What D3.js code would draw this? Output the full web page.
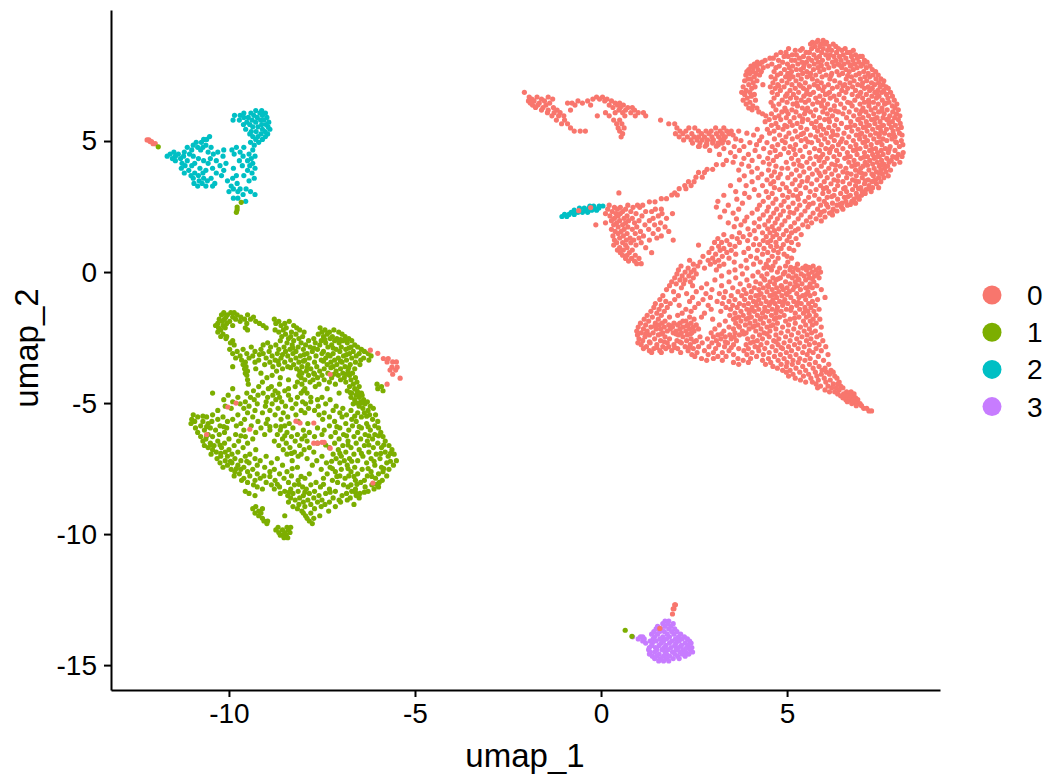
<!DOCTYPE html>
<html>
<head>
<meta charset="utf-8">
<script src="https://cdn.jsdelivr.net/npm/d3@7"></script>
<style>
html, body { margin: 0; padding: 0; background: #fff; }
svg { display: block; }
text { font-family: "Liberation Sans", Arial, sans-serif; fill: #000; }
</style>
</head>
<body>
<svg id="chart" width="1050" height="780"></svg>
<script>
// every row is [umap_2, umap_1, umap_1, ...]
var cluster0Head = [
[8.84,5.83,5.97],
[8.77,5.68,5.79,6.06],
[8.7,5.63,5.91,6.02,6.24],
[8.61,5.74,5.88,6.13,6.31],
[8.53,5.04,5.41,5.66,5.97,6.38,6.56],
[8.46,5.22,5.36,5.82,6.09,6.2,6.47,6.78],
[8.38,4.83,4.97,5.51,5.6,5.93,6.33,6.62,6.7],
[8.29,4.71,5.14,5.25,5.72,6.04,6.16,6.51,6.84],
[8.23,4.92,5.03,5.44,5.87,6.26,6.41,6.73,6.96,7.02],
[8.16,4.54,4.63,5.33,5.58,5.79,6.11,6.58,6.89],
[8.08,4.41,4.77,5.12,5.21,5.66,5.95,6.31,6.45,6.77,7.08],
[8.01,4.2,4.33,4.88,5.4,5.52,5.84,6.22,6.64,6.93,7.15],
[7.94,4.12,4.27,4.59,5.01,5.29,5.73,6.07,6.36,6.53,6.82,7.04],
[7.86,4.03,4.18,4.48,4.79,5.15,5.6,5.91,6.26,6.7,6.99,7.23],
[7.8,4.09,4.36,4.7,5.06,5.44,5.83,6.12,6.47,6.88,7.13],
[7.73,3.97,4.22,4.93,5.25,5.37,5.71,5.99,6.58,6.78,7.29],
[7.65,3.92,4.08,4.31,4.65,5.12,5.53,5.88,6.34,6.67,7.06,7.38],
[7.58,4.0,4.17,4.83,5.02,5.42,5.63,6.2,6.49,6.94,7.18],
[7.52,3.89,4.26,4.74,5.3,5.77,6.05,6.4,6.85,7.31,7.45],
[7.45,4.12,4.57,4.96,5.16,5.54,5.94,6.73,7.09,7.22],
[7.37,3.95,4.03,4.68,5.06,5.38,5.68,6.15,6.59,6.97,7.39,7.52],
[7.3,3.86,4.19,4.86,5.24,5.81,6.28,6.8,7.14,7.6],
[7.22,4.09,4.62,5.0,5.49,5.92,6.42,6.69,7.03,7.27,7.46],
[7.15,3.97,4.35,4.75,5.13,5.33,5.73,6.11,6.55,6.9,7.35,7.58],
[7.07,3.82,4.14,4.55,4.92,5.6,6.0,6.35,6.76,7.18,7.5,7.66],
[7.01,4.05,4.68,5.22,5.44,5.85,6.22,6.63,7.08,7.29,7.72],
[6.93,3.9,4.82,5.08,5.53,5.96,6.47,6.84,7.22,7.44,7.6],
[6.86,3.78,4.0,4.6,5.31,5.71,6.14,6.58,6.98,7.36,7.55,7.78],
[6.78,3.86,4.12,4.74,5.17,5.62,6.03,6.4,6.75,7.13,7.67],
[6.71,4.04,4.96,5.45,5.88,6.26,6.9,7.28,7.47,7.83],
[6.64,3.93,4.65,5.09,5.25,5.77,6.16,6.53,7.03,7.4,7.71],
[6.56,3.82,4.15,4.87,5.38,5.58,5.98,6.33,6.82,7.19,7.56,7.88],
[6.48,4.0,4.57,5.0,5.49,5.82,6.63,7.08,7.32,7.74],
[6.41,3.9,4.78,5.16,5.69,6.09,6.44,6.96,7.45,7.62,7.95],
[6.34,4.08,4.63,5.28,5.93,6.27,6.75,7.2,7.83],
[6.26,3.97,4.19,4.94,5.41,5.55,6.02,6.54,7.04,7.37,7.55,7.9],
[6.19,4.06,4.7,5.13,5.77,6.17,6.86,7.26,7.69,7.99],
[6.11,4.24,4.86,5.24,5.63,5.96,6.38,6.67,7.12,7.46,7.84],
[6.04,4.34,4.58,5.03,5.47,6.08,6.5,6.95,7.33,7.61,7.94],
[5.96,4.43,4.78,5.34,5.71,6.22,6.79,7.19,7.76,8.03],
[5.89,4.67,4.98,5.19,5.87,6.6,7.04,7.42,7.58,7.89],
[5.82,4.52,4.83,5.56,6.01,6.33,6.9,7.27,7.68,7.99],
[5.74,4.41,5.08,5.41,5.78,6.14,6.71,7.13,7.5,7.83],
[5.67,4.7,5.27,5.66,6.46,6.98,7.36,7.74,8.04],
[5.6,4.58,4.94,5.14,5.9,6.28,6.82,7.21,7.59,7.91],
[5.52,4.76,5.37,5.74,6.12,6.6,7.05,7.44,7.8,8.07],
[5.45,4.2,4.47,4.89,5.53,5.98,6.37,6.91,7.3,7.67,7.98],
[5.38,3.7,4.65,5.22,5.82,6.22,6.74,7.15,7.52,7.85],
[5.3,3.92,4.53,5.05,5.44,6.06,6.53,7.0,7.38,7.62,8.02],
[5.23,3.55,4.1,4.8,5.63,5.92,6.35,6.86,7.24,7.75,8.09],
[5.16,3.3,4.32,4.97,5.28,5.77,6.18,6.66,7.09,7.47,7.9],
[5.08,3.62,4.66,5.14,5.5,6.01,6.48,6.95,7.33,7.58,7.82],
[5.02,3.0,3.76,4.26,4.87,5.38,5.84,6.27,6.78,7.16,7.68,8.07],
[4.94,3.42,4.0,4.46,4.95,5.66,6.1,6.59,7.04,7.42,7.94],
[4.86,2.84,3.15,4.18,4.75,5.23,5.92,6.38,6.85,7.26,7.55,8.11],
[4.79,2.62,3.58,3.84,4.6,5.08,5.49,6.22,6.7,7.12,7.77,8.02],
[4.71,3.3,4.37,4.92,5.74,6.04,6.5,6.96,7.38,7.64],
[4.64,2.92,3.72,4.14,4.68,5.35,5.87,6.33,6.78,7.22,7.53,7.9],
[4.56,3.48,4.54,5.04,5.6,6.14,6.62,7.08,7.43,7.72,8.12],
[4.49,3.18,3.96,4.82,5.22,5.96,6.41,6.88,7.3,7.58,7.99],
[4.41,3.6,4.25,4.72,5.42,5.78,6.26,6.7,7.16,7.48,7.84,8.09],
[4.34,3.84,4.48,5.12,5.62,6.08,6.55,6.98,7.34,7.68,7.95],
[4.26,3.37,4.06,4.63,5.3,5.86,6.35,6.8,7.22,7.54,7.8],
[4.19,3.55,4.36,4.98,5.53,6.0,6.66,7.1,7.42,7.74,8.03],
[4.12,3.78,4.52,5.18,5.72,6.2,6.9,7.3,7.6,7.88],
[4.04,3.97,4.7,5.4,5.92,6.43,6.74,7.04,7.48,7.7],
[3.96,4.2,4.86,5.02,5.6,6.12,6.58,6.98,7.34,7.62],
[3.89,3.7,4.5,5.25,5.8,6.3,6.84,7.2,7.52,7.78],
[3.82,4.05,4.66,5.45,6.02,6.5,6.94,7.4,7.66],
[3.74,4.32,4.82,5.12,5.68,6.2,6.72,7.1,7.28,7.56],
[3.67,3.85,4.58,5.34,5.9,6.38,6.86,7.32,7.72],
[3.6,4.22,4.76,5.02,5.56,6.08,6.6,7.02,7.46,7.6],
[3.52,3.72,4.46,5.22,5.8,6.26,6.76,7.18,7.38],
[3.45,4.06,4.64,5.4,6.0,6.5,6.92,7.28,7.52],
[3.37,4.56,4.88,5.14,5.66,6.18,6.68,7.08,7.4],
[3.3,3.48,3.9,4.34,5.34,5.9,6.36,6.84,7.2],
[3.22,4.66,4.98,5.5,6.06,6.56,6.98,7.3,7.46],
[3.15,4.12,4.8,5.24,5.78,6.28,6.76,7.12],
[3.07,3.62,4.44,5.06,5.62,6.12,6.6,7.02,7.26],
[3.0,3.86,4.6,5.36,5.96,6.44,6.86,7.1],
[2.93,3.3,4.24,4.88,5.16,5.74,6.26,6.7,7.0],
[2.85,3.98,4.5,5.02,5.58,6.08,6.54,6.92],
[2.78,3.65,4.7,5.3,5.86,6.36,6.8,6.94],
[2.7,3.14,4.36,4.92,5.48,6.0,6.58,6.74],
[2.63,3.8,4.62,5.16,5.7,6.22,6.48,6.84],
[2.55,3.42,4.26,4.84,5.34,5.9,6.34,6.62],
[2.48,3.1,4.5,5.04,5.56,6.1,6.46],
[2.4,3.7,4.2,4.72,5.26,5.82,6.24,6.5],
[2.33,3.32,4.46,4.9,5.48,6.0,6.34],
[2.25,3.55,4.06,4.64,5.18,5.7,6.14],
[2.18,4.36,4.82,5.38,5.88,6.22],
[2.1,3.2,3.92,4.56,5.04,5.62,6.02],
[2.03,3.64,4.26,4.74,5.3,5.78],
[1.95,3.86,4.5,4.94,5.52,5.92],
[1.88,3.42,4.12,4.68,5.2,5.66],
[1.8,3.76,4.4,4.86,5.42],
[1.73,3.58,4.24,4.6,5.1,5.56],
[1.65,3.95,4.48,4.78,5.3],
[1.58,4.12,4.66,4.98,5.22],
[1.5,3.72,4.34,4.54,5.12],
[1.43,3.3,4.0,4.72,4.9,5.38]
];
var cluster0Body = [
[1.35,3.52,3.82,4.44,4.62,5.06],
[1.28,3.14,3.66,4.16,4.8,5.24],
[1.2,3.38,3.94,4.36,4.56,5.0],
[1.13,3.05,3.24,3.72,4.48,4.7,5.12],
[1.05,3.46,4.1,4.26,4.9,5.3],
[0.98,3.16,3.6,4.56,4.72],
[0.9,2.98,3.3,3.96,4.38,4.84,5.06],
[0.83,3.2,3.5,4.2,4.64,5.18],
[0.75,2.9,3.38,3.84,4.48,4.76],
[0.68,3.08,3.62,4.34,4.92],
[0.6,2.74,3.26,4.02,4.6,5.0],
[0.53,3.0,3.44,4.18,4.76,5.12],
[0.45,2.38,2.88,3.16,3.9,4.5],
[0.38,2.66,3.06,3.58,4.28,4.68,5.02],
[0.3,2.48,2.94,3.3,4.1,4.44,5.28],
[0.23,2.15,2.6,3.18,3.76,4.62,4.96,5.5,5.7],
[0.15,2.34,2.78,3.92,4.38,4.8,5.22,5.42,5.62,5.86],
[0.08,2.08,2.5,3.1,3.6,4.58,5.08,5.3,5.52,5.78],
[0.0,2.26,2.42,3.44,4.22,4.74,4.94,5.16,5.68,5.9],
[-0.07,2.04,2.56,3.8,4.46,4.9,5.38,5.58,5.82],
[-0.15,2.18,2.36,3.24,4.08,4.32,5.04,5.24,5.46,5.74],
[-0.22,1.98,2.48,3.62,4.62,4.82,5.14,5.6,5.86],
[-0.3,2.26,2.12,3.06,3.92,4.4,4.7,5.32,5.5],
[-0.37,1.9,2.4,3.44,4.16,4.54,4.96,5.22,5.72],
[-0.45,2.02,2.22,2.84,3.74,4.28,4.66,5.08,5.4,5.62],
[-0.52,1.84,2.46,3.24,3.98,4.48,4.84,5.28,5.8],
[-0.6,2.16,2.7,3.54,4.12,4.36,4.72,5.0,5.5,5.68],
[-0.67,1.76,2.98,3.84,4.24,4.6,4.9,5.16,5.36,5.92],
[-0.75,1.95,2.56,3.34,3.68,4.04,4.46,4.78,5.06,5.56],
[-0.82,2.3,2.82,3.18,3.9,4.3,4.68,4.98,5.26,5.74],
[-0.9,1.66,2.08,3.5,3.78,4.16,4.54,4.86,5.42,5.62],
[-0.97,2.46,2.94,3.3,4.02,4.38,4.72,5.1,5.32,6.02],
[-1.05,1.58,1.98,2.74,3.6,3.86,4.24,4.62,4.94,5.5,5.82],
[-1.12,1.74,2.38,3.12,3.44,4.1,4.44,4.8,5.18,5.68],
[-1.2,1.46,1.86,2.62,3.26,3.72,3.96,4.3,4.68,5.02,5.38,5.58],
[-1.27,1.62,2.1,2.88,3.54,3.84,4.18,4.52,4.88,5.26,5.76],
[-1.35,1.42,1.78,2.52,3.36,3.66,4.06,4.4,4.74,5.12,5.48,5.64],
[-1.42,1.56,2.28,2.96,3.48,3.92,4.24,4.6,4.98,5.34,5.86],
[-1.5,1.34,1.7,2.42,3.22,3.76,4.12,4.48,4.84,5.56,5.72],
[-1.57,1.5,2.18,2.78,3.6,3.98,4.34,4.7,5.22,5.44],
[-1.65,1.24,1.62,2.06,3.46,3.82,4.2,4.58,4.92,5.6,5.78],
[-1.72,1.38,1.84,2.38,2.7,3.7,4.04,4.42,4.8,5.32,5.52],
[-1.8,1.16,1.54,2.5,3.0,3.56,3.9,4.28,4.66,5.08,5.7,5.88],
[-1.87,1.28,1.72,2.2,2.28,3.34,3.76,4.14,4.52,4.96,5.44,5.62],
[-1.95,1.06,1.46,1.64,1.96,2.12,2.42,3.62,4.0,4.36,4.74,5.22,5.78],
[-2.02,1.2,1.56,1.82,2.06,2.34,2.56,3.18,3.88,4.22,4.62,5.04,5.5,5.68],
[-2.1,1.0,1.34,1.7,1.92,2.2,2.48,3.44,3.72,4.08,4.46,4.88,5.36,5.92],
[-2.17,1.14,1.48,1.6,1.86,2.12,2.38,2.62,3.06,3.56,3.98,4.3,4.7,5.18,5.6],
[-2.25,0.96,1.24,1.78,2.02,2.28,2.5,3.3,3.8,4.16,4.54,5.02,5.46,5.76],
[-2.32,1.08,1.4,1.66,1.94,2.16,2.44,2.96,3.6,3.9,4.38,4.84,5.3,5.66],
[-2.4,0.98,1.3,1.54,2.08,2.32,3.14,3.46,3.72,4.26,4.7,5.12,5.54,5.9],
[-2.47,1.18,1.72,2.2,2.66,3.02,3.34,3.58,4.08,4.52,4.96,5.4,5.8],
[-2.55,1.02,1.44,1.84,2.42,2.86,3.22,3.5,3.94,4.34,4.78,5.26,5.64],
[-2.62,1.12,1.6,2.04,2.3,2.56,3.1,3.64,4.2,4.64,5.08,5.52,5.96],
[-2.7,0.99,1.32,1.78,2.16,2.72,2.98,3.4,4.02,4.46,4.92,5.34,5.74],
[-2.77,1.08,1.5,1.96,2.4,3.16,3.56,3.9,4.3,4.76,5.2,5.6,5.86],
[-2.85,1.22,1.66,1.82,2.26,2.62,2.9,3.32,4.14,4.6,5.04,5.46,6.04],
[-2.92,1.14,1.42,1.74,2.06,2.48,3.08,3.7,3.96,4.4,4.88,5.3,5.78],
[-3.0,1.3,1.58,1.9,2.34,2.78,3.44,3.84,4.24,4.7,5.12,5.6,5.92],
[-3.07,1.36,1.62,2.14,2.58,3.02,3.26,4.06,4.52,4.98,5.42,5.7],
[-3.15,2.44,2.88,3.56,3.92,4.36,4.82,5.24,5.54,6.1],
[-3.22,2.52,3.14,3.36,4.18,4.66,5.08,5.84],
[-3.3,2.7,3.02,3.68,4.02,4.5,4.92,5.34,5.62],
[-3.37,2.84,3.26,3.82,4.34,4.76,5.16,5.48,5.98],
[-3.45,3.56,3.96,4.56,5.0,5.3,5.76],
[-3.52,3.7,4.42,4.84,5.14,5.6,6.12],
[-3.6,4.62,4.98,5.42,5.86],
[-3.67,4.74,5.24,5.7,6.02],
[-3.75,4.88,5.08,5.5,5.94,6.18],
[-3.82,4.98,5.34,5.76,6.06,6.24],
[-3.9,5.16,5.58,5.92,6.14],
[-3.97,5.04,5.44,5.8,6.28],
[-4.05,5.22,5.64,6.0,6.34],
[-4.12,5.36,5.84,6.16],
[-4.2,5.5,5.68,6.04,6.4],
[-4.27,5.78,6.24,6.36],
[-4.35,5.9,6.1,6.44],
[-4.42,5.82,6.2,6.32,6.5],
[-4.5,6.02,6.4],
[-4.57,6.14,6.28,6.6,6.72],
[-4.65,6.36,6.52,6.66,6.8],
[-4.72,6.44,6.6,6.74],
[-4.8,6.5,6.7,6.84],
[-4.87,6.58,6.68,6.78,6.9],
[-4.95,6.62,6.82],
[-5.02,6.74,6.88,6.96],
[-5.1,6.86,7.0],
[-5.2,7.06,7.14],
[-5.3,7.2,7.27]
];
// heavier patches of cluster 0, on the right of the head and the middle of the body
var cluster0Dense = [
[7.9,5.46,5.92,6.41,6.72],
[7.5,5.09,5.62,6.18,6.63],
[7.1,4.78,5.37,5.82,6.5,7.01],
[6.8,5.0,5.52,6.08,6.96,7.42],
[6.45,5.26,5.92,6.7,7.2,7.66],
[6.15,4.98,5.5,6.3,7.0,7.55],
[5.85,5.42,6.12,6.94,7.36,7.72],
[5.55,5.0,5.88,6.7,7.12,7.52],
[5.25,5.38,6.24,6.96,7.48,7.86],
[4.97,5.56,6.44,7.1,7.5,7.92],
[4.68,5.18,6.16,6.86,7.28,7.74],
[4.38,5.9,6.62,7.06,7.4,7.92],
[4.08,5.34,6.3,6.82,7.16,7.52],
[3.78,5.86,6.62,7.0,7.48],
[3.48,5.54,6.36,6.84,7.1,7.34],
[3.18,5.98,6.52,6.92,7.2],
[2.88,5.28,6.2,6.64,6.88],
[2.58,5.6,6.06,6.42,6.7],
[2.28,5.08,5.92,6.2],
[0.18,4.5,5.1,5.58],
[-0.26,4.38,4.76,5.3,5.68],
[-0.56,4.5,4.86,5.2,5.6],
[-0.86,4.26,4.62,5.0,5.5],
[-1.16,4.16,4.56,4.9,5.3],
[-1.46,4.0,4.4,4.72,5.1,5.5],
[-1.76,3.62,3.96,4.3,4.7,5.2],
[-2.06,1.44,1.9,2.3,3.7,4.12,4.56],
[-2.36,1.2,1.62,2.02,2.4,3.24,3.84,4.46],
[-2.66,1.3,1.7,2.12,2.5,3.34,4.1,4.7],
[-2.88,1.5,1.98,2.36,3.5,4.22,4.84]
];
// the two arms and the small blob next to the teal tip
var cluster0Arms = [
[6.86,-2.06],
[6.68,-1.93,-1.72,-1.42,-0.12,0.04],
[6.6,-1.86,-1.6,-1.3,-0.22,0.16,-0.04],
[6.53,-1.95,-1.8,-1.52,-0.62,-0.36,0.1,0.28],
[6.45,-1.9,-1.66,-1.38,-0.9,-0.78,-0.5,0.38,0.5],
[6.37,-1.84,-1.7,-1.48,-0.7,-0.28,0.22,0.44,0.6],
[6.28,-1.76,-1.56,-1.28,0.32,0.52,0.72,0.84],
[6.18,-1.6,-1.42,-1.18,-0.82,0.48,0.66,0.9],
[6.08,-1.44,-1.26,-1.1,0.12,0.38,0.58,0.8,1.0,1.14],
[5.96,-1.32,-1.14,-1.0,-0.1,0.22,0.64,0.92,1.2],
[5.8,-1.2,-0.98,0.34,0.5,1.6],
[5.66,-1.06,-0.9,0.42,0.56,1.82,1.98],
[5.5,-0.82,0.46,0.62,2.04,2.36,2.52,3.08,3.3],
[5.38,-0.72,-0.56,-0.42,0.5,2.12,2.28,2.62,2.82,2.96,3.2,3.38,3.5],
[5.28,0.58,2.0,2.2,2.44,2.7,2.9,3.1,3.26,3.44],
[5.16,0.54,2.1,2.32,2.5,2.62,2.78,2.98,3.16,3.34],
[5.04,2.22,2.42,2.58,2.72,2.86,3.02,3.22,3.3],
[4.92,2.46,2.66,2.84,3.0,3.14,3.26],
[4.8,2.64,2.8,3.1],
[4.1,3.28,3.1],
[3.92,2.85,3.0],
[3.8,2.62,2.78],
[3.62,2.55,2.72],
[3.45,2.35,2.5],
[3.3,2.25,2.42],
[3.18,2.1,2.28],
[3.02,0.48,1.98],
[2.94,1.9,2.05],
[2.8,1.62,1.76],
[2.68,1.3,1.45],
[2.55,0.22,0.72,0.98,1.12],
[2.47,0.36,0.52,0.86,1.04],
[2.4,0.18,0.44,0.66,1.46,1.62],
[2.31,0.3,0.58,0.8,1.2,1.36],
[2.23,0.12,0.4,0.52,0.94,1.64,1.92],
[2.14,0.24,0.46,0.7,1.1,1.54],
[2.05,0.36,0.62,0.84,1.4,1.76],
[1.96,0.28,0.5,0.74,1.02,1.3],
[1.88,0.12,0.42,0.66,0.9,1.6],
[1.8,-0.14,0.34,0.58,1.18,1.44],
[1.72,0.46,0.72,0.96,1.72],
[1.63,0.28,0.62,0.84,1.28,1.54],
[1.55,0.38,0.54,1.06,1.82],
[1.47,0.46,0.7,0.92,1.4],
[1.38,0.32,0.6,1.14,1.62],
[1.3,0.5,0.78,1.02,1.5],
[1.22,0.36,0.68,0.88,1.3,1.94],
[1.12,0.42,0.58,0.8,1.08],
[1.03,0.34,0.66,0.94,2.62],
[0.93,0.5,0.7,1.2],
[0.84,0.44,0.6,0.84],
[0.74,0.52,0.76,1.36],
[0.64,0.58,0.7,0.92],
[0.52,0.66,0.82,1.02],
[0.42,0.74,0.9],
[0.32,1.08,0.96]
];
var cluster1 = [
[-1.55,-10.14,-9.95,-9.86],
[-1.63,-10.2,-10.04,-9.78,-9.5],
[-1.72,-10.08,-9.9,-9.68,-9.34],
[-1.8,-10.26,-10.12,-9.82,-9.58,-9.42,-8.78],
[-1.88,-10.18,-9.98,-9.7,-9.28,-8.66,-8.38],
[-1.96,-10.3,-10.06,-9.52,-9.18,-8.74,-8.5],
[-2.04,-10.36,-10.16,-9.9,-9.08,-8.6,-8.26],
[-2.13,-10.28,-10.1,-9.56,-9.0,-8.46,-8.18,-7.55],
[-2.21,-10.22,-9.5,-8.76,-8.54,-8.1,-7.42,-7.18],
[-2.29,-10.3,-8.66,-8.32,-7.98,-7.5,-7.3,-7.05],
[-2.37,-10.16,-8.48,-8.2,-7.6,-7.36,-6.96],
[-2.46,-10.22,-10.06,-8.58,-8.34,-8.02,-7.46,-7.22,-6.88],
[-2.54,-10.08,-8.4,-8.12,-7.72,-7.28,-7.1,-6.78],
[-2.62,-9.9,-8.62,-8.26,-7.86,-7.52,-7.16,-6.94,-6.7],
[-2.7,-9.96,-8.96,-8.44,-8.06,-7.68,-7.4,-7.04,-6.82],
[-2.78,-9.86,-9.08,-8.74,-8.3,-7.94,-7.56,-7.24,-6.62],
[-2.86,-9.4,-8.88,-8.52,-8.14,-7.82,-7.34,-6.98,-6.72,-6.54],
[-2.95,-9.98,-9.62,-9.14,-8.66,-8.36,-8.0,-7.62,-7.12,-6.86,-6.44],
[-3.03,-9.78,-9.3,-8.92,-8.48,-8.2,-7.76,-7.46,-7.02,-6.66,-6.36],
[-3.11,-9.9,-9.52,-9.08,-8.7,-8.28,-7.9,-7.5,-7.2,-6.76,-6.5,-6.26],
[-3.2,-9.7,-9.36,-8.84,-8.42,-8.08,-7.66,-7.28,-6.92,-6.58,-6.18],
[-3.28,-9.82,-9.46,-9.0,-8.6,-8.2,-7.84,-7.4,-7.06,-6.7,-6.38],
[-3.36,-9.66,-9.2,-8.76,-8.34,-7.96,-7.52,-7.16,-6.84,-6.46,-6.24],
[-3.44,-9.56,-9.3,-8.9,-8.5,-8.12,-7.7,-7.26,-6.96,-6.6],
[-3.53,-9.62,-9.04,-8.66,-8.26,-7.88,-7.36,-7.1,-6.74,-6.48],
[-3.61,-9.9,-9.54,-8.82,-8.42,-8.04,-7.64,-7.2,-6.88],
[-3.69,-9.58,-9.28,-8.56,-8.18,-7.8,-7.44,-7.0,-6.62],
[-3.78,-9.5,-8.72,-8.1,-7.92,-7.56,-7.12,-6.8],
[-3.86,-9.56,-9.14,-8.04,-7.72,-7.34,-6.94,-6.68],
[-3.94,-9.52,-8.84,-8.12,-7.86,-7.5,-7.06,-6.76],
[-4.03,-8.98,-8.62,-8.06,-7.62,-7.24,-6.9,-6.6],
[-4.11,-9.5,-8.4,-7.96,-7.74,-7.44,-7.0,-6.72],
[-4.2,-9.1,-8.16,-7.82,-7.3,-6.86,-6.56],
[-4.28,-9.48,-8.64,-8.04,-7.58,-7.14,-6.66,-6.02],
[-4.37,-9.2,-8.86,-8.22,-7.68,-6.76,-6.5,-5.9],
[-4.45,-9.9,-8.94,-8.4,-7.96,-7.36,-6.62,-6.0],
[-4.53,-9.34,-8.76,-8.5,-8.0,-6.82,-6.56,-5.86],
[-4.62,-10.44,-9.52,-9.08,-8.68,-8.06,-7.9,-7.04,-6.7,-6.44],
[-4.7,-10.02,-9.22,-8.82,-8.4,-6.58,-6.42],
[-4.78,-9.76,-9.42,-8.96,-8.64,-8.16,-7.8,-7.5,-6.72,-6.5],
[-4.87,-10.14,-9.32,-8.74,-8.34,-7.62,-7.28,-6.62,-6.38],
[-4.95,-9.9,-9.56,-9.0,-8.58,-8.02,-7.8,-6.46,-6.28],
[-5.03,-9.7,-9.24,-8.84,-8.2,-7.94,-7.4,-6.66,-6.34],
[-5.12,-10.1,-9.46,-9.02,-8.48,-7.6,-7.12,-6.5,-6.2],
[-5.2,-9.94,-9.6,-8.68,-8.3,-7.86,-6.94,-6.4,-6.12],
[-5.28,-10.3,-9.3,-8.9,-8.06,-7.7,-7.2,-6.72,-6.26],
[-5.37,-9.5,-9.1,-8.54,-7.96,-7.44,-7.02,-6.54,-6.36],
[-5.45,-10.96,-10.44,-9.76,-8.76,-8.2,-7.58,-6.84,-6.22,-6.06],
[-5.53,-10.84,-10.6,-10.16,-9.36,-8.42,-7.3,-6.96,-6.44],
[-5.62,-11.0,-10.3,-9.9,-9.58,-8.96,-8.6,-7.48,-6.7,-6.14],
[-5.7,-10.92,-10.7,-10.46,-10.04,-9.22,-8.14,-7.16,-6.58,-6.0],
[-5.78,-11.02,-10.56,-9.68,-9.0,-8.38,-7.88,-6.86,-6.3],
[-5.87,-10.76,-10.24,-9.8,-9.4,-8.74,-8.5,-7.3,-6.68,-6.08],
[-5.95,-10.9,-10.5,-10.06,-9.14,-8.28,-7.62,-7.02,-6.44,-5.98],
[-6.03,-10.66,-10.36,-9.6,-8.9,-8.62,-8.0,-7.44,-6.78,-6.2],
[-6.12,-10.84,-10.12,-9.28,-8.44,-7.84,-7.14,-6.54,-5.92],
[-6.2,-10.56,-10.26,-9.82,-9.04,-8.7,-8.16,-7.5,-6.92,-6.34,-6.08],
[-6.28,-10.76,-10.44,-9.56,-8.32,-7.7,-7.26,-6.64,-5.86],
[-6.37,-10.62,-10.0,-9.36,-8.56,-8.04,-7.04,-6.46,-6.14],
[-6.45,-10.7,-10.3,-9.74,-8.78,-8.22,-7.9,-6.8,-6.28,-5.8],
[-6.53,-10.5,-10.12,-9.5,-8.46,-7.62,-7.16,-6.58,-6.0],
[-6.62,-10.66,-10.4,-9.86,-8.66,-8.1,-6.94,-6.36,-5.7],
[-6.7,-10.56,-10.2,-9.62,-8.36,-7.84,-7.3,-6.72,-6.12,-5.9],
[-6.78,-10.44,-10.0,-9.28,-8.54,-7.98,-7.06,-6.5,-5.62],
[-6.87,-10.34,-10.1,-9.76,-8.24,-7.72,-6.86,-6.24,-5.8],
[-6.95,-10.48,-9.92,-9.44,-8.44,-8.06,-7.2,-6.64,-6.04,-5.56],
[-7.03,-10.22,-10.04,-9.56,-9.0,-8.14,-7.5,-6.98,-6.4,-5.72],
[-7.12,-10.32,-9.84,-9.3,-8.7,-7.9,-7.12,-6.76,-6.18,-5.94],
[-7.2,-10.1,-9.68,-9.16,-8.3,-7.64,-6.9,-6.54,-5.5],
[-7.28,-10.24,-9.92,-9.46,-8.86,-7.38,-7.02,-6.3,-5.76],
[-7.37,-10.04,-9.76,-9.24,-8.56,-7.76,-6.82,-6.08,-5.58],
[-7.45,-10.16,-9.6,-9.04,-8.16,-7.28,-6.62,-5.9],
[-7.53,-9.94,-9.68,-9.36,-8.78,-7.52,-6.98,-6.42,-5.7],
[-7.62,-9.84,-9.5,-8.9,-8.44,-7.14,-6.72,-6.18,-5.86],
[-7.7,-9.72,-9.24,-8.64,-7.84,-7.36,-6.54,-5.98],
[-7.78,-9.86,-9.44,-9.06,-8.32,-7.02,-6.78,-6.28,-5.76],
[-7.87,-9.6,-9.16,-8.52,-7.96,-7.46,-6.88,-6.06],
[-7.95,-9.66,-9.3,-8.76,-8.14,-7.22,-6.6,-6.36,-5.88],
[-8.03,-9.5,-9.0,-8.4,-7.66,-7.08,-6.46,-5.96],
[-8.12,-9.34,-8.86,-8.24,-7.8,-6.92,-6.72,-6.16],
[-8.2,-9.24,-8.64,-8.02,-7.54,-6.8,-6.34,-5.98],
[-8.28,-9.1,-8.78,-8.34,-7.92,-7.3,-6.6,-6.1],
[-8.37,-9.56,-8.5,-8.14,-7.7,-7.14,-6.7,-6.26],
[-8.45,-9.46,-8.62,-8.28,-7.84,-7.4,-6.84,-6.48],
[-8.53,-9.3,-8.42,-8.0,-7.58,-6.96,-6.58],
[-8.62,-8.34,-8.1,-7.72,-7.2,-6.74,-6.5],
[-8.7,-8.22,-7.88,-7.5,-7.04,-6.82],
[-8.78,-8.4,-8.0,-7.62,-7.3,-7.0],
[-8.87,-8.12,-7.8,-7.42,-6.64],
[-8.95,-9.28,-8.28,-7.96,-7.52,-7.14],
[-9.03,-9.36,-9.1,-8.16,-7.7],
[-9.12,-9.2,-8.04,-7.32],
[-9.2,-9.3,-9.14,-8.0,-7.8],
[-9.3,-9.2,-8.5,-7.94,-7.56],
[-9.4,-9.1,-7.9,-7.72],
[-9.5,-9.06,-8.96,-7.84],
[-9.6,-8.98,-7.76],
[-9.74,-8.68,-8.44,-8.34],
[-9.84,-8.74,-8.56,-8.4],
[-9.94,-8.66,-8.5,-8.36],
[-10.04,-8.62,-8.46,-8.54],
[-10.14,-8.52,-8.42]
];
// heavier patches of cluster 1, the top band and the lower right
var cluster1Dense = [
[-2.58,-7.42,-7.0,-6.86],
[-2.9,-8.28,-7.72,-7.2,-6.78],
[-3.15,-9.18,-8.56,-7.98,-7.34,-6.84],
[-3.4,-8.68,-8.0,-7.46,-7.0],
[-3.65,-8.34,-7.9,-7.26,-6.78],
[-3.9,-7.7,-7.18,-6.84],
[-4.6,-6.74,-6.52],
[-5.0,-6.56,-6.42],
[-5.5,-10.7,-6.62,-6.3],
[-5.9,-10.6,-10.14,-8.9,-8.6,-7.1,-6.5,-6.26],
[-6.25,-10.6,-9.68,-8.5,-7.96,-6.84,-6.24,-5.98],
[-6.6,-10.48,-10.24,-7.4,-6.8,-6.24,-5.84],
[-6.92,-10.22,-8.32,-7.02,-6.44,-5.92,-5.66],
[-7.22,-9.96,-9.52,-7.24,-6.7,-6.1,-5.66],
[-7.5,-9.8,-8.3,-7.22,-6.8,-6.26,-5.84],
[-7.8,-8.9,-8.06,-7.1,-6.64,-6.16],
[-8.1,-8.7,-8.12,-7.46,-6.56,-6.04],
[-8.4,-8.38,-7.96,-7.28,-6.6,-6.36]
];
var cluster2 = [
[6.16,-9.28,-9.12],
[6.07,-9.6,-9.41,-9.17,-9.02],
[5.98,-9.85,-9.7,-9.33,-9.1],
[5.9,-9.6,-9.48,-9.24,-8.98],
[5.8,-9.89,-9.72,-9.38,-9.15,-9.06],
[5.72,-9.52,-9.28,-8.93],
[5.63,-9.61,-9.44,-9.12,-9.0],
[5.54,-9.36,-9.22,-8.95],
[5.45,-9.55,-9.1,-8.9],
[5.36,-9.4,-9.27,-9.03],
[5.27,-9.44,-9.14,-8.96],
[5.17,-10.52,-9.36,-9.22,-9.02],
[5.06,-10.68,-10.6,-9.28,-9.1],
[4.95,-10.88,-10.74,-9.42,-9.2],
[4.84,-10.96,-10.62,-9.32],
[4.76,-11.12,-10.84,-10.7,-10.48,-9.8,-9.6],
[4.66,-11.0,-10.76,-10.14,-9.92,-9.36],
[4.58,-11.48,-11.2,-10.56,-10.3,-9.7],
[4.5,-11.58,-11.36,-11.06,-10.42,-9.86,-9.46],
[4.42,-11.66,-11.44,-11.22,-10.96,-10.16,-9.62,-9.3],
[4.33,-11.52,-11.3,-10.82,-10.5,-9.4],
[4.25,-11.44,-11.12,-10.68,-10.34,-9.72,-9.5],
[4.15,-11.26,-10.92,-10.56,-10.08,-9.36],
[4.06,-11.18,-11.0,-10.24,-9.64,-9.44],
[3.96,-11.28,-10.78,-10.44,-9.88,-9.3],
[3.88,-11.08,-10.62,-10.14,-9.5],
[3.78,-11.2,-10.92,-10.7,-10.34,-9.38],
[3.68,-11.02,-10.82,-10.2,-9.8,-9.6],
[3.58,-10.96,-10.68,-10.48,-9.9,-9.32],
[3.48,-10.8,-10.58,-10.04,-9.46],
[3.38,-10.94,-10.72,-10.38,-9.78],
[3.28,-10.84,-10.62,-10.44,-9.94],
[3.17,-9.88,-9.7,-9.54],
[3.07,-10.0,-9.76,-9.42],
[2.96,-9.62,-9.3],
[2.82,-9.88,-9.76],
[2.7,-9.55]
];
// teal tip poking out of the left blob of cluster 0
var cluster2Tip = [
[2.52,-0.3,-0.2,-0.05,0.05],
[2.44,-0.58,-0.45,-0.32,-0.18,-0.06],
[2.36,-0.72,-0.58,-0.42,-0.25,-0.12],
[2.28,-0.8,-0.62,-0.5,-0.36],
[2.2,-0.98,-0.86,-0.72],
[2.12,-1.05,-0.92]
];
var cluster3 = [
[-13.32,1.72,1.82],
[-13.42,1.66,1.8,1.94],
[-13.52,1.52,1.72,1.88],
[-13.62,1.48,1.62,1.82,1.98],
[-13.72,1.42,1.58,1.7,1.9,2.04],
[-13.82,1.36,1.52,1.78,1.96,2.14],
[-13.92,0.85,1.06,1.12,1.44,1.66,1.84,2.08,2.24],
[-14.0,1.0,1.16,1.4,1.58,1.76,2.0,2.18,2.32],
[-14.08,1.12,1.32,1.48,1.68,1.9,2.1,2.38],
[-14.16,1.2,1.38,1.62,1.84,2.02,2.26,2.42],
[-14.25,1.36,1.56,1.74,1.98,2.16,2.34],
[-14.33,1.3,1.46,1.7,1.88,2.08,2.3,2.44],
[-14.41,1.28,1.5,1.64,1.8,2.02,2.2,2.4],
[-14.5,1.32,1.44,1.72,1.92,2.12,2.28,2.46],
[-14.58,1.3,1.56,1.76,1.98,2.18,2.36],
[-14.66,1.38,1.5,1.68,1.84,2.06,2.26],
[-14.75,1.44,1.6,1.76,1.94,2.1],
[-14.84,1.55,1.68,1.82]
];
// strays of one cluster sitting on top of another
var cluster0Strays = [
[5.04,-12.2,-12.15],
[4.98,-12.12,-12.08],
[4.9,-12.04,-11.98],
[-2.98,-6.2],
[-3.1,-6.0],
[-3.3,-5.85,-5.72],
[-3.43,-5.75,-5.6,-5.5],
[-3.63,-5.62,-5.48],
[-3.74,-5.67,-5.52],
[-3.9,-7.28,-5.6],
[-4.05,-5.4],
[-4.28,-5.75],
[-5.15,-10.03],
[-5.0,-9.81],
[-5.69,-8.2],
[-5.76,-8.09,-7.72],
[-6.0,-9.44],
[-6.2,-10.6],
[-6.53,-7.72,-7.62],
[-6.5,-7.5,-7.44],
[-6.72,-7.28],
[-8.05,-6.13],
[-12.7,1.98,2.0],
[-12.85,1.96,1.94],
[-13.05,1.92],
[-13.6,1.58],
[2.46,-0.28],
[2.34,-0.6]
];
var cluster1Strays = [
[4.78,-11.9],
[2.66,-9.67],
[2.48,-9.78],
[2.38,-9.78],
[2.28,-9.8],
[-13.67,0.65],
[-13.9,0.83]
];
var clusterNames = ["0", "1", "2", "3"];
var clusterColors = ["#F8766D", "#7CAE00", "#00BFC4", "#C77CFF"];
var xTicks = [-10, -5, 0, 5];
var yTicks = [-15, -10, -5, 0, 5];

var svg = d3.select("#chart");
var x = d3.scaleLinear().domain([-13.17, 9.11]).range([111, 940]);
var y = d3.scaleLinear().domain([-15.95, 10]).range([690, 10]);

function flatten(rows) {
    var out = [];
    rows.forEach(function (row) {
        row.slice(1).forEach(function (u1) {
            out.push([u1, row[0]]);
        });
    });
    return out;
}

// draw order matters, strays go last so they stay visible
var layers = [
    [cluster0Head, 0], [cluster0Body, 0], [cluster0Dense, 0], [cluster0Arms, 0],
    [cluster1, 1], [cluster1Dense, 1], [cluster2, 2],
    [cluster3, 3], [cluster2Tip, 2], [cluster0Strays, 0], [cluster1Strays, 1]
];
layers.forEach(function (layer) {
    svg.append("g").selectAll("circle").data(flatten(layer[0])).enter().append("circle")
        .attr("cx", function (d) { return x(d[0]); })
        .attr("cy", function (d) { return y(d[1]); })
        .attr("r", 2.6)
        .attr("fill", clusterColors[layer[1]]);
});

var xAxis = d3.axisBottom(x).tickValues(xTicks).tickFormat(String).tickSizeInner(7).tickSizeOuter(0).tickPadding(6);
var yAxis = d3.axisLeft(y).tickValues(yTicks).tickFormat(String).tickSizeInner(7).tickSizeOuter(0).tickPadding(7);
var gx = svg.append("g").attr("transform", "translate(0,690)").call(xAxis);
var gy = svg.append("g").attr("transform", "translate(111,0)").call(yAxis);
[gx, gy].forEach(function (g) {
    g.selectAll("path,line").attr("stroke", "#000").attr("stroke-width", 2);
    g.selectAll("text").attr("font-size", 28).attr("font-family", "Liberation Sans").attr("fill", "#000");
});

svg.append("text").attr("x", 525).attr("y", 767).attr("text-anchor", "middle").attr("font-size", 33).text("umap_1");
svg.append("text").attr("transform", "translate(38,348) rotate(-90)").attr("text-anchor", "middle").attr("font-size", 33).text("umap_2");

var legend = svg.append("g").selectAll("g").data(clusterNames).enter().append("g")
    .attr("transform", function (d, i) { return "translate(992," + (295 + i * 37.2) + ")"; });
legend.append("circle").attr("r", 9.5).attr("fill", function (d, i) { return clusterColors[i]; });
legend.append("text").attr("x", 35).attr("dy", "0.36em").attr("font-size", 28).text(function (d) { return d; });
</script>
</body>
</html>
